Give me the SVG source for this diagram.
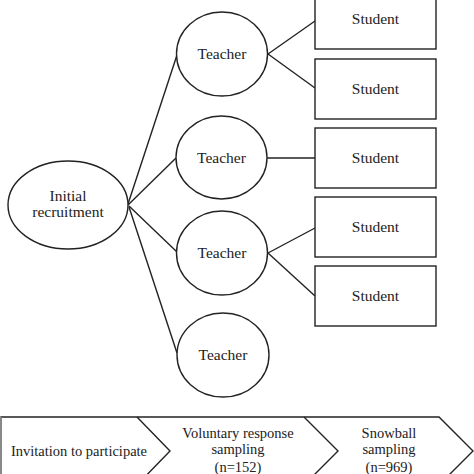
<svg xmlns="http://www.w3.org/2000/svg" width="474" height="474" viewBox="0 0 474 474">
<style>
.s{fill:#fff;stroke:#222;stroke-width:1.4}
.c{fill:none;stroke:#222;stroke-width:1.4}
.n{font-size:15.5px}
.b{font-size:14.5px}
</style>
<rect width="474" height="474" fill="#fff"/>
<g id="connectors">
<line class="c" x1="128" y1="204" x2="177" y2="55"/>
<line class="c" x1="128" y1="205" x2="176" y2="158"/>
<line class="c" x1="129" y1="206" x2="177" y2="252"/>
<line class="c" x1="129" y1="207" x2="177" y2="353"/>
<line class="c" x1="268" y1="54" x2="315" y2="21"/>
<line class="c" x1="268" y1="54" x2="315" y2="88"/>
<line class="c" x1="267" y1="158" x2="315" y2="158"/>
<line class="c" x1="268" y1="253" x2="315" y2="228"/>
<line class="c" x1="268" y1="253" x2="315" y2="296"/>
</g>
<g font-family="'Liberation Serif','DejaVu Serif',serif" fill="#222" text-anchor="middle">
<g id="initial">
<ellipse class="s" cx="68" cy="205" rx="60" ry="44"/>
<text class="n" x="68" y="201">Initial</text>
<text class="n" x="68" y="217">recruitment</text>
</g>
<g id="teacher1"><ellipse class="s" cx="222" cy="54" rx="45.5" ry="42"/><text class="n" x="222" y="59">Teacher</text></g>
<g id="teacher2"><ellipse class="s" cx="221.5" cy="157.5" rx="45.5" ry="41.5"/><text class="n" x="221.5" y="162.5">Teacher</text></g>
<g id="teacher3"><ellipse class="s" cx="222" cy="253" rx="45.5" ry="42"/><text class="n" x="222" y="258">Teacher</text></g>
<g id="teacher4"><ellipse class="s" cx="223" cy="355" rx="46" ry="42"/><text class="n" x="223" y="360">Teacher</text></g>
<g id="student1"><rect class="s" x="315" y="-11" width="121" height="60"/><text class="n" x="375.5" y="24">Student</text></g>
<g id="student2"><rect class="s" x="315" y="59" width="121" height="60"/><text class="n" x="375.5" y="94">Student</text></g>
<g id="student3"><rect class="s" x="315" y="128" width="121" height="60"/><text class="n" x="375.5" y="163">Student</text></g>
<g id="student4"><rect class="s" x="315" y="197" width="121" height="60"/><text class="n" x="375.5" y="232">Student</text></g>
<g id="student5"><rect class="s" x="315" y="266" width="121" height="60"/><text class="n" x="375.5" y="301">Student</text></g>
<g id="process">
<path class="c" d="M1,485 V417 H439 L473,451 L439,485"/>
<line x1="1" y1="417" x2="1" y2="485" stroke="#999" stroke-width="1.4"/>
<path class="c" d="M137,417 L170,451 L137,485"/>
<path class="c" d="M304,417 L338,451 L304,485"/>
<text class="b" x="79" y="456">Invitation to participate</text>
<text class="b" x="238" y="438">Voluntary response</text>
<text class="b" x="238" y="454">sampling</text>
<text class="b" x="238" y="472">(n=152)</text>
<text class="b" x="389" y="438">Snowball</text>
<text class="b" x="389" y="454">sampling</text>
<text class="b" x="389" y="472">(n=969)</text>
</g>
</g>
</svg>
